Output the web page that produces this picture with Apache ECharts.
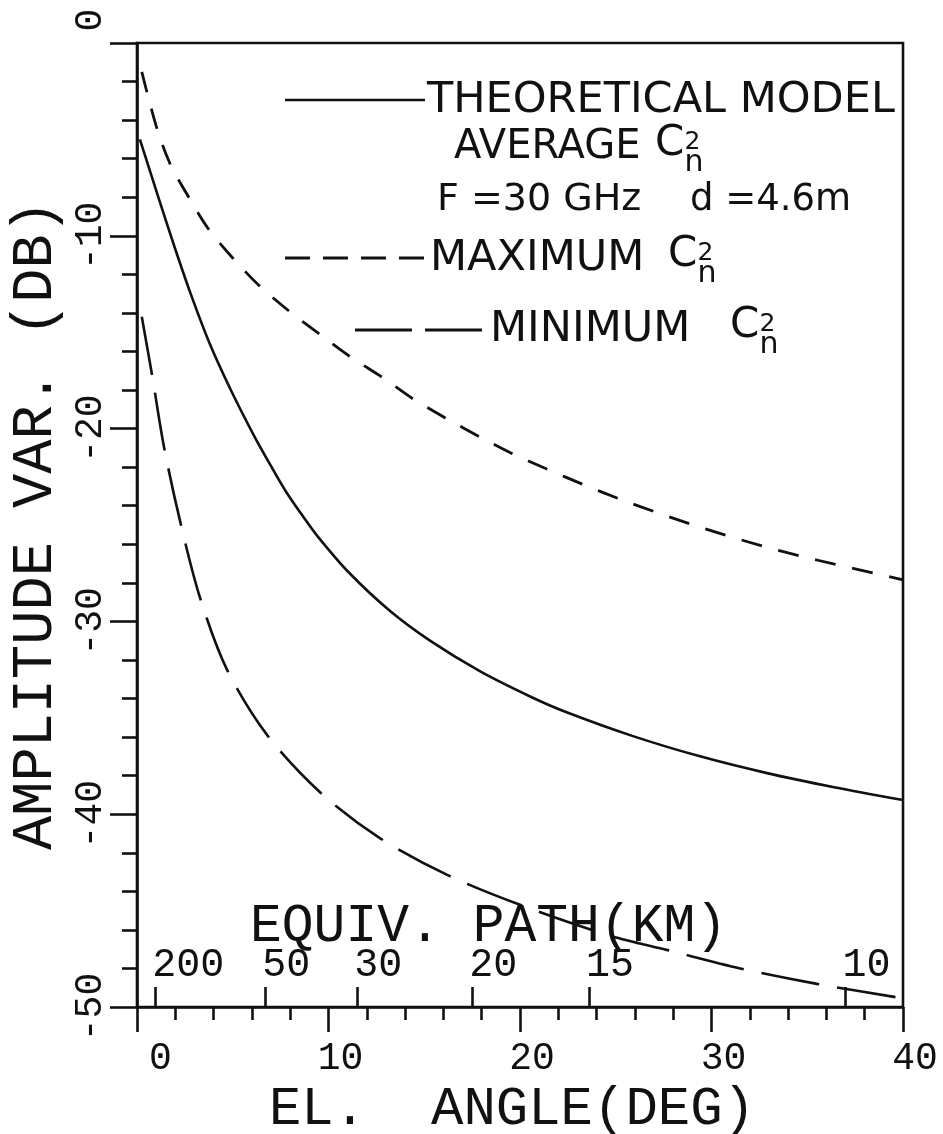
<!DOCTYPE html>
<html><head><meta charset="utf-8">
<script src="https://cdn.jsdelivr.net/npm/echarts@6/dist/echarts.min.js"></script>
<style>html,body{margin:0;padding:0;background:#fff}#c{width:943px;height:1134px}</style>
</head><body><div id="c"></div>
<script>
// ---- data ----
const xTicks = [0, 10, 20, 30, 40];            // EL. ANGLE (DEG)
const yTicks = [0, -10, -20, -30, -40, -50];   // AMPLITUDE VAR. (DB)
const pathKm = [200, 50, 30, 20, 15, 10];      // EQUIV. PATH (KM) labels
const pathAngle = [0.95, 6.7, 11.5, 17.5, 23.6, 37.0]; // elevation of each path label

const maxEl = [0.25, 1.0, 1.7, 2.7, 3.7, 5.0, 6.4, 8.0, 9.6, 11.1, 12.9, 14.4, 16.2, 17.9, 19.6, 21.4, 23.3, 25.2, 27.0, 28.9, 30.8, 32.7, 34.6, 36.5, 38.5, 40];
const maxDb = [-1.5, -4.3, -6.2, -8.0, -9.6, -11.15, -12.6, -13.95, -15.15, -16.25, -17.4, -18.45, -19.5, -20.43, -21.3, -22.1, -22.9, -23.65, -24.3, -24.95, -25.55, -26.1, -26.6, -27.05, -27.5, -27.85];

const avgEl = [0.15, 1.1, 1.9, 2.8, 3.8, 4.9, 6.1, 7.0, 7.8, 8.7, 9.4, 11.0, 13.2, 15.3, 17.9, 20.5, 22.4, 25.9, 29.4, 32.9, 36.4, 40];
const avgDb = [-5.0, -7.95, -10.4, -13.0, -15.6, -18.0, -20.35, -21.95, -23.3, -24.6, -25.55, -27.4, -29.45, -31.0, -32.58, -33.88, -34.7, -35.95, -37.0, -37.87, -38.6, -39.26];

const minEl = [0.25, 0.8, 1.4, 2.25, 3.3, 4.7, 6.8, 9.6, 12.7, 16.2, 20.0, 24.7, 27.7, 31.5, 35.5, 40];
const minDb = [-14.2, -17.3, -20.9, -24.8, -28.8, -32.5, -35.9, -38.9, -41.25, -43.15, -44.7, -46.3, -47.05, -48.0, -48.8, -49.55];

const INK = '#111';
const MONO = '"Liberation Mono", "DejaVu Sans Mono", monospace';
const SANS = '"DejaVu Sans", sans-serif';

function pairs(xs, ys) { return xs.map((x, i) => [x, ys[i]]); }

const chart = echarts.init(document.getElementById('c'), null, {renderer: 'canvas'});

function T(x, y, s, font, align, valign) {
  return {type: 'text', x: x, y: y,
          style: {text: s, font: font, fill: INK,
                  textAlign: align || 'left', textVerticalAlign: valign || 'middle',
                  align: align || 'left', verticalAlign: valign || 'middle'}};
}

function cn(x, yBase, size) {
  // "C" with stacked superscript 2 and subscript n
  return [
    T(x, yBase, 'C', size + 'px ' + SANS, 'left', 'bottom'),
    T(x + size * 0.7, yBase - size * 0.84, '2', Math.round(size * 0.6) + 'px ' + SANS, 'left', 'top'),
    T(x + size * 0.7, yBase + size * 0.32, 'n', Math.round(size * 0.72) + 'px ' + SANS, 'left', 'bottom')
  ];
}

const graphicEls = [
  {type: 'line', shape: {x1: 285, y1: 100, x2: 425, y2: 100}, style: {stroke: INK, lineWidth: 2.6}},
  T(427, 101, 'THEORETICAL MODEL', '43px ' + SANS),
  T(454, 148, 'AVERAGE', '40px ' + SANS),
  ...cn(655, 165, 42),
  T(437, 200, 'F =30 GHz', '38px ' + SANS),
  T(690, 200, 'd =4.6m', '37px ' + SANS),
  {type: 'line', shape: {x1: 285, y1: 258, x2: 425, y2: 258}, style: {stroke: INK, lineWidth: 2.8, lineDash: [25, 13]}},
  T(430, 259, 'MAXIMUM', '43px ' + SANS),
  ...cn(668, 276, 42),
  {type: 'line', shape: {x1: 355, y1: 330, x2: 482, y2: 330}, style: {stroke: INK, lineWidth: 2.8, lineDash: [57, 13]}},
  T(490, 330, 'MINIMUM', '43px ' + SANS),
  ...cn(730, 347, 42),
  T(250, 927, 'EQUIV. PATH(KM)', '53px ' + MONO)
];

const axisLineStyle = {color: INK, width: 2.6};

chart.setOption({
  animation: false,
  backgroundColor: '#fff',
  grid: {left: 137, right: 40, top: 43, bottom: 127, containLabel: false, outerBoundsMode: 'none',
         show: true, borderColor: INK, borderWidth: 2.6, backgroundColor: 'transparent'},
  xAxis: [
    {
      type: 'value', min: xTicks[0], max: xTicks[xTicks.length - 1], interval: 10, position: 'bottom',
      axisLine: {show: true, onZero: false, lineStyle: axisLineStyle},
      axisTick: {show: true, inside: false, length: 25, lineStyle: {color: INK, width: 2.6}},
      minorTick: {show: true, splitNumber: 5, length: 13, lineStyle: {color: INK, width: 2.6}},
      splitLine: {show: false},
      axisLabel: {show: true, margin: 33, color: INK, fontFamily: MONO, fontSize: 38, padding: [0, 0, 0, 24],
                  formatter: v => String(v).padStart(2, ' ')},
      name: 'EL.  ANGLE(DEG)', nameLocation: 'middle', nameGap: 72,
      nameTextStyle: {color: INK, fontFamily: MONO, fontSize: 54, padding: [0, 16, 0, 0]}
    },
    {
      type: 'value', min: xTicks[0], max: xTicks[xTicks.length - 1], position: 'bottom',
      axisLine: {show: false, onZero: false},
      axisTick: {show: true, inside: true, length: 20, customValues: pathAngle, lineStyle: {color: INK, width: 2.6}},
      minorTick: {show: false},
      splitLine: {show: false},
      axisLabel: {show: true, inside: true, margin: 22, color: INK, fontFamily: MONO, fontSize: 40, align: 'left',
                  customValues: pathAngle, padding: [0, 0, 0, -3],
                  formatter: v => { const i = pathAngle.indexOf(v); return i >= 0 ? String(pathKm[i]) : ''; }}
    }
  ],
  yAxis: {
    type: 'value', min: yTicks[yTicks.length - 1], max: yTicks[0], interval: 10, position: 'left',
    axisLine: {show: true, onZero: false, lineStyle: axisLineStyle},
    axisTick: {show: true, inside: false, length: 27, lineStyle: {color: INK, width: 2.6}},
    minorTick: {show: true, splitNumber: 5, length: 15, lineStyle: {color: INK, width: 2.6}},
    splitLine: {show: false},
    axisLabel: {show: true, rotate: 90, margin: 27, color: INK, fontFamily: MONO, fontSize: 38,
                formatter: v => String(v).padStart(3, ' ')},
    name: 'AMPLITUDE VAR. (DB)', nameLocation: 'middle', nameRotate: 90, nameGap: 70,
    nameTextStyle: {color: INK, fontFamily: MONO, fontSize: 57}
  },
  series: [
    {name: 'THEORETICAL MODEL AVERAGE Cn2', type: 'line', data: pairs(avgEl, avgDb), showSymbol: false, smooth: 0.3,
     lineStyle: {color: INK, width: 2.6, type: 'solid'}, z: 3},
    {name: 'MAXIMUM Cn2', type: 'line', data: pairs(maxEl, maxDb), showSymbol: false, smooth: 0.3,
     lineStyle: {color: INK, width: 2.8, type: [21, 17]}, z: 3},
    {name: 'MINIMUM Cn2', type: 'line', data: pairs(minEl, minDb), showSymbol: false, smooth: 0.3,
     lineStyle: {color: INK, width: 2.6, type: [59, 18]}, z: 3}
  ],
  graphic: {elements: graphicEls}
});
</script>
</body></html>
